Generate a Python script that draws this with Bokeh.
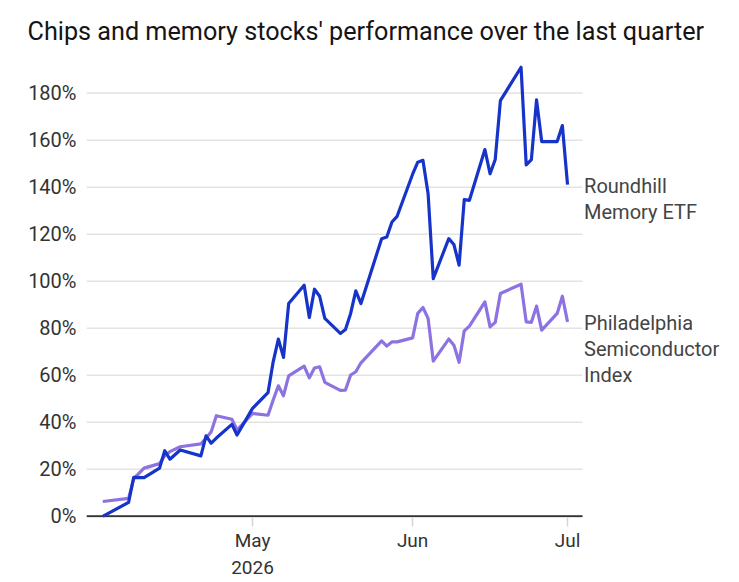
from datetime import datetime, timedelta
from bokeh.plotting import figure
from bokeh.models import Range1d, FixedTicker, DatetimeTickFormatter, PrintfTickFormatter
from bokeh.core.properties import value
from bokeh.embed import file_html
from bokeh.resources import INLINE

TITLE = "Chips and memory stocks' performance over the last quarter"

dates = [
    "2026-04-02", "2026-04-07", "2026-04-08", "2026-04-10", "2026-04-13", "2026-04-14",
    "2026-04-15", "2026-04-17", "2026-04-21", "2026-04-22", "2026-04-23", "2026-04-24",
    "2026-04-27", "2026-04-28", "2026-05-01", "2026-05-04", "2026-05-05", "2026-05-06",
    "2026-05-07", "2026-05-08", "2026-05-11", "2026-05-12", "2026-05-13", "2026-05-14",
    "2026-05-15", "2026-05-18", "2026-05-19", "2026-05-20", "2026-05-21", "2026-05-22",
    "2026-05-26", "2026-05-27", "2026-05-28", "2026-05-29", "2026-06-01", "2026-06-02",
    "2026-06-03", "2026-06-04", "2026-06-05", "2026-06-08", "2026-06-09", "2026-06-10",
    "2026-06-11", "2026-06-12", "2026-06-15", "2026-06-16", "2026-06-17", "2026-06-18",
    "2026-06-22", "2026-06-23", "2026-06-24", "2026-06-25", "2026-06-26", "2026-06-29",
    "2026-06-30", "2026-07-01",
]

roundhill_memory_etf = [
    0.0, 5.9, 16.6, 16.5, 20.5, 27.9,
    24.3, 28.2, 25.7, 34.2, 31.1, 33.3,
    39.1, 34.6, 45.9, 52.6, 65.7, 75.4,
    67.6, 90.5, 98.3, 84.6, 96.6, 93.6,
    84.2, 77.8, 79.5, 86.3, 95.9, 90.5,
    118.1, 118.8, 125.2, 127.6, 145.5, 150.6,
    151.4, 137.2, 101.1, 118.1, 115.6, 106.8,
    134.7, 134.4, 156.0, 145.7, 151.8, 176.8,
    191.0, 149.5, 151.7, 177.1, 159.4, 159.4,
    166.2, 141.1,
]

philadelphia_semiconductor = [
    6.3, 7.6, 16.0, 20.5, 22.4, 25.8,
    27.5, 29.6, 30.8, 33.2, 36.0, 42.8,
    41.3, 36.7, 43.8, 43.0, 49.5, 55.5,
    51.3, 59.7, 63.9, 58.9, 63.1, 63.6,
    57.0, 53.6, 53.7, 60.1, 61.5, 65.3,
    74.6, 72.4, 74.2, 74.2, 75.9, 86.3,
    88.8, 84.2, 66.0, 75.4, 72.8, 65.5,
    78.9, 80.9, 91.2, 80.6, 82.5, 94.8,
    98.7, 82.7, 82.5, 89.4, 79.2, 86.3,
    93.6, 82.7,
]

series_labels = [["Roundhill", "Memory ETF"], ["Philadelphia", "Semiconductor", "Index"]]
y_ticks = [0, 20, 40, 60, 80, 100, 120, 140, 160, 180]
x_tick_dates = ["2026-05-01", "2026-06-01", "2026-07-01"]

xs = [datetime.fromisoformat(d) for d in dates]

FONT = "Roboto"
BLUE = "#1634c9"
PURPLE = "#8d72e1"
GRID = "#e3e3e3"

X_START = datetime(2026, 3, 29, 20, 25)
GRID_END = datetime(2026, 7, 3, 21, 36)
X_END = datetime(2026, 8, 3, 7, 13)
PX_PER_UNIT = 2.354   # vertical pixels per percentage point
LINE_PX = 25.8        # label line spacing in pixels
LABEL_DY_PX = 1.5     # label nudge downward in pixels

p = figure(
    width=739, height=582, output_backend="svg", toolbar_location=None,
    x_axis_type="datetime",
    x_range=Range1d(X_START, X_END),
    y_range=Range1d(-0.5, 196.0),
    min_border_left=86, min_border_right=0, min_border_top=55, min_border_bottom=64,
)
p.outline_line_color = None
p.background_fill_color = "white"
p.border_fill_color = "white"

p.title.text = TITLE
p.title.text_font = FONT
p.title.text_font_size = "25.2px"
p.title.text_font_style = "normal"
p.title.text_color = "#151515"
p.title.align = "left"
p.title.offset = -59
p.title.standoff = 19

# grid lines (limited to the data area)
p.xgrid.grid_line_color = None
p.ygrid.grid_line_color = None
p.segment(x0=[X_START] * len(y_ticks), x1=[GRID_END] * len(y_ticks), y0=y_ticks, y1=y_ticks,
          line_color=GRID, line_width=1.5)

# y axis
p.yaxis.ticker = FixedTicker(ticks=y_ticks)
p.yaxis.formatter = PrintfTickFormatter(format="%d%%")
p.yaxis.axis_line_color = None
p.yaxis.major_tick_line_color = None
p.yaxis.major_tick_out = 0
p.yaxis.major_tick_in = 0
p.yaxis.minor_tick_line_color = None
p.yaxis.minor_tick_out = 0
p.yaxis.major_label_standoff = 10
p.yaxis.major_label_text_font = FONT
p.yaxis.major_label_text_font_size = "20px"
p.yaxis.major_label_text_color = "#333333"

# x axis
x_ticks_ms = [datetime.fromisoformat(d).timestamp() * 1000 for d in x_tick_dates]
p.xaxis.ticker = FixedTicker(ticks=x_ticks_ms)
p.xaxis.formatter = DatetimeTickFormatter(
    days="%b", months="%b", years="%b", context="%Y", context_which="start",
)
p.xaxis.axis_line_color = None
p.xaxis.major_tick_line_color = "#d6d6d6"
p.xaxis.major_tick_line_width = 1.5
p.xaxis.major_tick_in = 0
p.xaxis.major_tick_out = 9
p.xaxis.minor_tick_line_color = None
p.xaxis.minor_tick_out = 0
p.xaxis.major_label_standoff = 2
p.xaxis.major_label_text_font = FONT
p.xaxis.major_label_text_font_size = "19px"
p.xaxis.major_label_text_color = "#333333"

# baseline (axis line) limited to the data area
p.segment(x0=[X_START], x1=[GRID_END], y0=[0], y1=[0], line_color="#333333", line_width=2)

p.line(xs, philadelphia_semiconductor, line_color=PURPLE, line_width=3.2, line_join="round")
p.line(xs, roundhill_memory_etf, line_color=BLUE, line_width=3.2, line_join="round")

# direct labels at the right end of each line
label_x = datetime.fromisoformat(dates[-1]) + timedelta(days=3.2)
lx, ly, lt = [], [], []
for lines, last in zip(series_labels, [roundhill_memory_etf[-1], philadelphia_semiconductor[-1]]):
    for i, t in enumerate(lines):
        lx.append(label_x)
        ly.append(last - (i * LINE_PX + LABEL_DY_PX) / PX_PER_UNIT)
        lt.append(t)
p.text(x=lx, y=ly, text=lt, text_font=value(FONT), text_font_size="20px",
       text_color="#444444", text_baseline="middle", text_align="left")

open("out.html", "w").write(file_html(p, INLINE))
